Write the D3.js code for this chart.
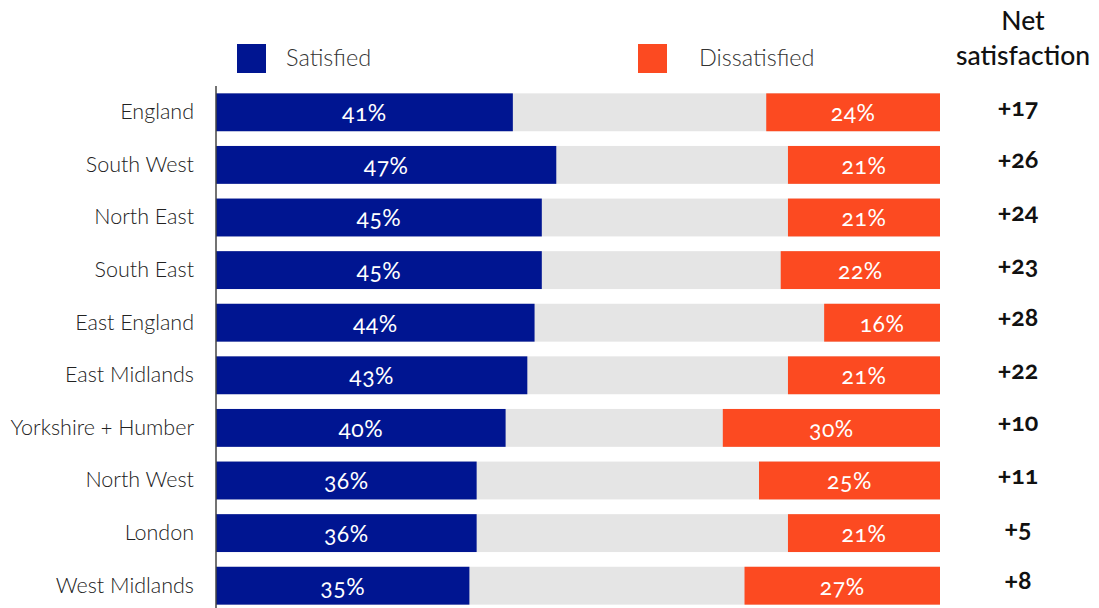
<!DOCTYPE html>
<html>
<head>
<meta charset="utf-8">
<script src="https://cdn.jsdelivr.net/npm/d3@7"></script>
<style>
  body { margin: 0; background: #fff; }
  svg text { font-family: Lato, "Open Sans", sans-serif; font-variant-numeric: oldstyle-nums; }
</style>
</head>
<body>
<svg id="chart" width="1099" height="608"></svg>
<script>
// Regional satisfaction survey: share satisfied vs dissatisfied, with net score
const regions = ["England", "South West", "North East", "South East", "East England",
  "East Midlands", "Yorkshire + Humber", "North West", "London", "West Midlands"];
const satisfied = [41, 47, 45, 45, 44, 43, 40, 36, 36, 35];
const dissatisfied = [24, 21, 21, 22, 16, 21, 30, 25, 21, 27];
const netLabels = ["+17", "+26", "+24", "+23", "+28", "+22", "+10", "+11", "+5", "+8"];
const seriesNames = ["Satisfied", "Dissatisfied"];

const colors = { sat: "#001591", dis: "#FC4A21", rest: "#E5E5E5" };

const svg = d3.select("#chart");
const left = 216, right = 940;

const x = d3.scaleLinear().domain([0, 100]).range([left, right]);
const y = d3.scaleBand().domain(regions).range([86, 612]).paddingInner(0.28).paddingOuter(0.14);

const rows = regions.map((r, i) => ({ region: r, sat: satisfied[i], dis: dissatisfied[i], net: netLabels[i] }));

const g = svg.append("g");

// grey remainder (full track)
g.selectAll("rect.rest").data(rows).join("rect")
  .attr("class", "rest")
  .attr("x", x(0)).attr("width", x(100) - x(0))
  .attr("y", d => y(d.region)).attr("height", y.bandwidth())
  .attr("fill", colors.rest);

// satisfied
g.selectAll("rect.sat").data(rows).join("rect")
  .attr("class", "sat")
  .attr("x", x(0)).attr("width", d => x(d.sat) - x(0))
  .attr("y", d => y(d.region)).attr("height", y.bandwidth())
  .attr("fill", colors.sat);

// dissatisfied, anchored to the right end
g.selectAll("rect.dis").data(rows).join("rect")
  .attr("class", "dis")
  .attr("x", d => x(100 - d.dis)).attr("width", d => x(100) - x(100 - d.dis))
  .attr("y", d => y(d.region)).attr("height", y.bandwidth())
  .attr("fill", colors.dis);

// value labels inside segments
g.selectAll("text.satv").data(rows).join("text")
  .attr("x", d => (x(0) + x(d.sat)) / 2)
  .attr("y", d => y(d.region) + y.bandwidth() / 2 + 3)
  .attr("text-anchor", "middle").attr("dominant-baseline", "middle")
  .attr("fill", "#fff").attr("font-size", 23).attr("letter-spacing", 0.5)
  .text(d => d.sat + "%");

g.selectAll("text.disv").data(rows).join("text")
  .attr("x", d => (x(100 - d.dis) + x(100)) / 2)
  .attr("y", d => y(d.region) + y.bandwidth() / 2 + 3)
  .attr("text-anchor", "middle").attr("dominant-baseline", "middle")
  .attr("fill", "#fff").attr("font-size", 23).attr("letter-spacing", 0.5)
  .text(d => d.dis + "%");

// category axis
const yAxis = d3.axisLeft(y).tickSize(0).tickPadding(22);
const ax = svg.append("g").attr("transform", `translate(${left},0)`).call(yAxis);
ax.select(".domain").attr("stroke", "#444").attr("stroke-width", 1.5)
  .attr("d", "M0,86V608");
ax.selectAll(".tick text").attr("font-size", 21.5).attr("fill", "#222")
  .attr("font-weight", 300)
  .style("font-family", "Lato, sans-serif");

// net satisfaction column
svg.selectAll("text.net").data(rows).join("text")
  .attr("x", 1018)
  .attr("y", d => y(d.region) + y.bandwidth() / 2 - 3)
  .attr("text-anchor", "middle").attr("dominant-baseline", "middle")
  .attr("font-size", 25).attr("font-weight", 700).attr("fill", "#111")
  .text(d => d.net);

const head = svg.append("text").attr("text-anchor", "middle")
  .attr("font-size", 26.5).attr("font-weight", 500).attr("fill", "#111");
head.append("tspan").attr("x", 1023).attr("y", 30).text("Net");
head.append("tspan").attr("x", 1023).attr("y", 65).text("satisfaction");

// legend
const legend = [
  { name: seriesNames[0], color: colors.sat, sx: 237, tx: 286 },
  { name: seriesNames[1], color: colors.dis, sx: 638, tx: 699 }
];
const lg = svg.append("g");
lg.selectAll("rect").data(legend).join("rect")
  .attr("x", d => d.sx).attr("y", 44).attr("width", 29).attr("height", 29)
  .attr("fill", d => d.color);
lg.selectAll("text").data(legend).join("text")
  .attr("x", d => d.tx).attr("y", 66)
  .attr("font-size", 23.5).attr("font-weight", 300).attr("fill", "#333")
  .text(d => d.name);
</script>
</body>
</html>
